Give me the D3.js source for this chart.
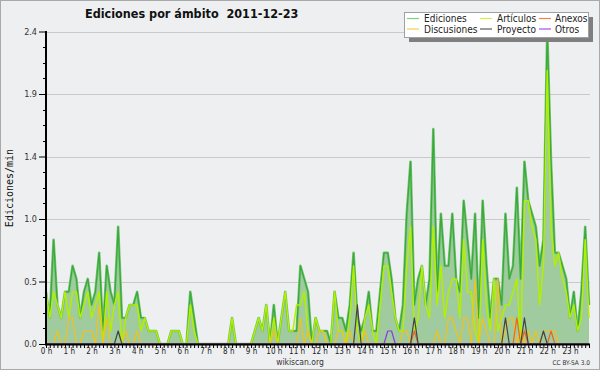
<!DOCTYPE html>
<html><head><meta charset="utf-8">
<script src="https://cdn.jsdelivr.net/npm/d3@7/dist/d3.min.js"></script>
<style>
body{margin:0;background:#fff;}
svg{display:block;}
text{font-family:"DejaVu Sans Condensed","DejaVu Sans",sans-serif;font-stretch:condensed;}
</style>
</head><body>
<svg id="chart" width="600" height="370"></svg>
<script>
// ---- data (edits per minute, 10-minute bins, 00:00 .. 23:50) ----
const titleText = "Ediciones por ámbito  2011-12-23";
const hourLabels = ["0 h","1 h","2 h","3 h","4 h","5 h","6 h","7 h","8 h","9 h","10 h","11 h",
  "12 h","13 h","14 h","15 h","16 h","17 h","18 h","19 h","20 h","21 h","22 h","23 h"];
const yTickValues = [0, 0.48, 0.96, 1.44, 1.92, 2.4];
const seriesNames = ["Ediciones","Discusiones","Artículos","Proyecto","Anexos","Otros"];

const ediciones = [
  0.4,0.2,0.8,0.3,0.2,0.4,  0.4,0.6,0.5,0.2,0.4,0.5,
  0.3,0.4,0.7,0.1,0.6,0.4,  0.3,0.9,0.2,0.2,0.3,0.3,
  0.4,0.2,0.2,0.1,0.1,0.1,  0,0,0,0.1,0.1,0.1,
  0,0,0.4,0.2,0,0,          0,0,0,0,0,0,
  0,0.2,0,0,0,0,            0,0.1,0.2,0.1,0.3,0,
  0.3,0,0.2,0.4,0.1,0.1,    0.1,0.6,0.5,0.4,0,0.2,
  0.1,0.1,0.1,0,0.4,0.2,    0.2,0.1,0.3,0.7,0.2,0.1,
  0.2,0.4,0.1,0.1,0.4,0.7,  0.7,0.5,0.2,0.1,0.3,1.0,
  1.4,0.3,0.5,0.6,0.3,0.5,  1.65,0.4,1.0,0.6,0.6,1.0,
  0.5,0.4,1.1,0.8,0.5,1.0,  0.2,1.1,0.6,0.2,0.5,0.5,
  0.3,1.0,0.5,0.6,1.2,0.5,  1.4,1.1,1.0,0.9,0.6,0.8,
  2.4,1.4,0.7,0.7,0.6,0.5,  0.2,0.4,0.1,0.4,0.9,0.3
];
const articulos = [
  0.4,0.2,0.4,0.3,0.2,0.4,  0.2,0.4,0.4,0.2,0.3,0.4,
  0.2,0.3,0.4,0,0.4,0.1,    0.3,0.4,0,0.2,0.3,0.3,
  0.3,0.1,0.2,0.1,0.1,0.1,  0,0,0,0.1,0.1,0.1,
  0,0,0.3,0.1,0,0,          0,0,0,0,0,0,
  0,0.2,0,0,0,0,            0,0.1,0.2,0.1,0.3,0,
  0.2,0,0.2,0.4,0.1,0.1,    0.3,0.3,0.4,0.1,0,0.2,
  0.1,0.1,0,0,0.4,0.1,      0.1,0,0.2,0.6,0.1,0,
  0.2,0.3,0.1,0,0.3,0.6,    0.6,0.4,0.2,0.1,0.1,0.6,
  0.9,0.1,0.2,0.6,0.3,0.2,  0.9,0.3,0.6,0.2,0.4,0.5,
  0.5,0.2,0.8,0.4,0.4,0.1,  0,0.8,0.3,0.1,0.5,0.1,
  0.2,0.3,0.3,0.4,0.5,0,    1.1,1.1,0.9,0.8,0.3,0.6,
  2.1,0.9,0.6,0.7,0.5,0.4,  0.2,0.3,0.1,0.2,0.8,0.2
];
const discusiones = [
  0,0,0,0.1,0,0,        0.2,0.2,0,0,0.1,0.1,
  0.1,0,0.3,0,0.2,0,    0,0,0,0.1,0,0,
  0.1,0,0,0,0,0,        0,0,0,0,0,0,
  0,0,0,0,0,0,          0,0,0,0,0,0,
  0,0,0,0,0,0,          0,0,0,0,0,0,
  0.1,0,0,0,0,0,        0,0.2,0,0.1,0,0,
  0.1,0.1,0,0,0,0.1,    0.1,0,0.1,0,0,0,
  0.1,0,0,0,0,0,        0,0,0,0,0.1,0.1,
  0,0,0,0,0,0,          0,0.1,0,0,0.2,0.2,
  0.1,0,0.2,0.2,0,0.5,  0,0.2,0.1,0,0,0.5,
  0,0.1,0.2,0.2,0,0.1,  0,0.1,0,0.1,0,0.1,
  0.1,0.1,0.1,0,0,0,    0,0,0,0,0,0
];
const proyecto = [
  0,0,0,0,0,0,  0,0,0,0,0,0,  0,0,0,0,0,0,  0,0.1,0,0,0,0,
  0,0,0,0,0,0,  0,0,0,0,0,0,  0,0,0,0,0,0,  0,0,0,0,0,0,
  0,0,0,0,0,0,  0,0,0,0,0,0,  0,0,0,0,0,0,  0,0,0,0,0,0,
  0,0,0,0,0,0,  0,0,0,0,0.3,0,  0,0,0,0,0,0,  0,0,0,0,0,0,
  0,0.2,0,0,0,0,  0,0,0,0,0,0,  0,0,0,0,0,0,  0,0,0,0,0,0,
  0,0.2,0,0,0,0,  0.2,0,0,0,0,0.1,  0,0,0,0,0,0,  0,0,0,0,0,0
];
const anexos = [
  0,0,0,0,0,0,  0,0,0,0,0,0,  0,0,0,0,0,0,  0,0,0,0,0,0,
  0,0,0,0,0,0,  0,0,0,0,0,0,  0,0,0,0,0,0,  0,0,0,0,0,0,
  0,0,0,0,0,0,  0,0,0,0,0,0,  0,0,0,0,0,0,  0,0,0,0,0,0,
  0,0,0,0,0,0,  0,0,0,0,0,0,  0,0,0,0,0,0,  0,0,0,0,0,0,
  0,0.1,0,0,0,0,  0,0,0,0,0,0,  0,0,0,0,0,0,  0,0,0,0,0,0,
  0,0,0,0,0.2,0,  0.1,0,0,0,0,0,  0,0.1,0,0,0,0,  0,0,0,0,0,0
];
const otros = [
  0,0,0,0,0,0,  0,0,0,0,0,0,  0,0,0,0,0,0,  0,0,0,0,0,0,
  0,0,0,0,0,0,  0,0,0,0,0,0,  0,0,0,0,0,0,  0,0,0,0,0,0,
  0,0,0,0,0,0,  0,0,0,0,0,0,  0,0,0,0,0,0,  0,0,0,0,0,0,
  0,0,0,0,0,0,  0,0,0,0,0,0,  0,0,0,0,0,0,  0.1,0.1,0,0,0,0,
  0,0,0,0,0,0,  0,0,0,0,0,0,  0,0,0,0,0,0,  0,0,0,0,0,0,
  0,0,0,0,0,0,  0,0,0,0,0,0,  0,0,0,0,0,0,  0,0,0,0,0,0
];

// ---- drawing ----
const W = 600, H = 370;
const svg = d3.select("#chart");
const x = d3.scaleLinear().domain([0, 143]).range([46, 589]);
const y = d3.scaleLinear().domain([0, 2.4]).range([344, 31.5]);

svg.append("rect").attr("x",0.5).attr("y",0.5).attr("width",W-1).attr("height",H-1)
  .attr("fill","#eeeff1").attr("stroke","#a9a9a9");

// gridlines
svg.append("g").selectAll("line").data(yTickValues.slice(1)).join("line")
  .attr("x1",47).attr("x2",590).attr("y1",d=>Math.round(y(d))+0.5).attr("y2",d=>Math.round(y(d))+0.5)
  .attr("stroke","#c9c9c9").attr("stroke-width",1);

const colors = {ed:"#3aab3a", edFill:"#9fcb9f", art:"#b2f000", dis:"#f2c21c", pro:"#444444", anx:"#ee6422", otr:"#8a3ae6"};

const area = d3.area().x((d,i)=>x(i)).y0(y(0)).y1(d=>y(d));
const line = d3.line().x((d,i)=>x(i)).y(d=>y(d));

svg.append("path").datum(ediciones).attr("d",area).attr("fill",colors.edFill);
svg.append("path").datum(ediciones).attr("d",line).attr("fill","none").attr("stroke","#7cc47c").attr("stroke-width",2.6).attr("stroke-linejoin","round");
svg.append("path").datum(ediciones).attr("d",line).attr("fill","none").attr("stroke",colors.ed).attr("stroke-width",1.3).attr("stroke-linejoin","round");

[[articulos,colors.art,1.5],[discusiones,colors.dis,1.2],[anexos,colors.anx,1.2],[proyecto,colors.pro,1.2],[otros,colors.otr,1.2]].forEach(([data,c,w])=>{
  svg.append("path").datum(data).attr("d",line).attr("fill","none").attr("stroke",c).attr("stroke-width",w).attr("stroke-linejoin","round");
});

// y axis
const yAxis = d3.axisLeft(y).tickValues(yTickValues).tickFormat(d3.format(".1f")).tickSize(7).tickPadding(2);
const gy = svg.append("g").attr("transform","translate(46,0)").call(yAxis);
gy.select(".domain").remove();
gy.selectAll(".tick line").attr("stroke","#000");
gy.selectAll(".tick text").attr("font-size",9).attr("fill","#333").attr("font-family",null);
const minorY = d3.range(0, 20).map(k => k*0.12).filter(v => !yTickValues.some(t=>Math.abs(t-v)<1e-6));
svg.append("g").selectAll("line").data(minorY).join("line")
  .attr("x1",43).attr("x2",46).attr("y1",d=>Math.round(y(d))+0.5).attr("y2",d=>Math.round(y(d))+0.5).attr("stroke","#000");
svg.append("line").attr("x1",46).attr("x2",46).attr("y1",31).attr("y2",345).attr("stroke","#000").attr("stroke-width",2);

// x axis
const xAxis = d3.axisBottom(x).tickValues(d3.range(0,144)).tickFormat((d)=> d%6===0 ? hourLabels[d/6] : "").tickSize(3).tickPadding(0);
const gx = svg.append("g").attr("transform","translate(0,345)").call(xAxis);
gx.select(".domain").remove();
gx.selectAll(".tick line").attr("stroke","#000");
gx.selectAll(".tick text").attr("font-size",8).attr("fill","#222").attr("font-family",null);
gx.selectAll(".tick").filter(d => d%6!==0).select("text").remove();
svg.append("line").attr("x1",45).attr("x2",590).attr("y1",344.5).attr("y2",344.5).attr("stroke","#000").attr("stroke-width",2);

// title (keep the double space)
svg.append("text").attr("x",85).attr("y",18).attr("font-size",12.5).attr("font-weight","bold").attr("fill","#111")
  .attr("xml:space","preserve").style("white-space","pre").text(titleText);

// y label
svg.append("text").attr("transform","translate(13,188) rotate(-90)").attr("text-anchor","middle")
  .style("font-family","'DejaVu Sans Mono',monospace").style("font-stretch","normal").attr("font-size",10).attr("fill","#111").text("Ediciones/min");

// footer
svg.append("text").attr("x",300).attr("y",365).attr("text-anchor","middle").attr("font-size",8.5).attr("fill","#333").text("wikiscan.org");
svg.append("text").attr("x",590).attr("y",364.5).attr("text-anchor","end").attr("font-size",6.5).attr("fill","#333").text("CC BY-SA 3.0");

// legend
const lg = svg.append("g");
lg.append("rect").attr("x",409).attr("y",17).attr("width",184).attr("height",25).attr("fill","#7f7f7f");
lg.append("rect").attr("x",404.5).attr("y",12.5).attr("width",184).attr("height",25).attr("fill","#fff").attr("stroke","#a0a0a0");
const legendItems = [
  {name:seriesNames[0], c:"#7fd07f", lx:407, tx:424, row:0},
  {name:seriesNames[1], c:"#f6d04a", lx:407, tx:424, row:1},
  {name:seriesNames[2], c:"#cdf04a", lx:480, tx:497, row:0},
  {name:seriesNames[3], c:"#5a5a5a", lx:480, tx:497, row:1},
  {name:seriesNames[4], c:"#f08050", lx:539, tx:555, row:0},
  {name:seriesNames[5], c:"#a050f0", lx:539, tx:555, row:1}
];
legendItems.forEach(it=>{
  const yy = it.row===0 ? 18.5 : 29;
  lg.append("line").attr("x1",it.lx).attr("x2",it.lx+12).attr("y1",yy).attr("y2",yy).attr("stroke",it.c).attr("stroke-width",1.2);
  lg.append("text").attr("x",it.tx).attr("y",yy+3.7).attr("font-size",10).attr("fill","#222").text(it.name);
});
</script>
</body></html>
